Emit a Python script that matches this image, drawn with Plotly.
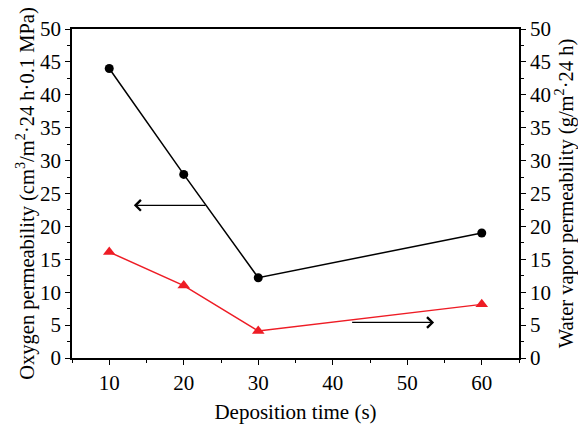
import plotly.graph_objects as go

# Data
deposition_time = [10, 20, 30, 60]
oxygen_perm = [44, 27.9, 12.2, 19.0]
water_vapor_perm = [16.1, 11.0, 4.1, 8.15]
x_ticks = [10, 20, 30, 40, 50, 60]
y_ticks = [0, 5, 10, 15, 20, 25, 30, 35, 40, 45, 50]

# Arrow annotations (data coords): tail -> head
left_arrow = dict(tail=(23.1, 23.2), head=(13.3, 23.2))
right_arrow = dict(tail=(42.4, 5.4), head=(53.6, 5.4))

FONT = "Liberation Serif"

fig = go.Figure()
fig.add_trace(go.Scatter(
    x=deposition_time, y=oxygen_perm, mode="lines+markers",
    line=dict(color="black", width=1.5),
    marker=dict(symbol="circle", size=9, color="black"),
    yaxis="y", showlegend=False))
fig.add_trace(go.Scatter(
    x=deposition_time, y=water_vapor_perm, mode="lines+markers",
    line=dict(color="#ee1c25", width=1.5),
    marker=dict(symbol="triangle-up", size=11, color="#ee1c25"),
    yaxis="y2", showlegend=False))

for arr in (left_arrow, right_arrow):
    fig.add_annotation(
        x=arr["head"][0], y=arr["head"][1], ax=arr["tail"][0], ay=arr["tail"][1],
        xref="x", yref="y", axref="x", ayref="y", text="", showarrow=True,
        arrowhead=4, arrowsize=1.6, arrowwidth=1.3, arrowcolor="black")

axis_common = dict(
    showgrid=False, zeroline=False, showline=True, linecolor="black", linewidth=1.5,
    ticks="outside", ticklen=5, tickwidth=1.3, tickcolor="black", automargin=False,
    tickfont=dict(family=FONT, size=21, color="black"),
)

fig.update_layout(
    width=578, height=430,
    margin=dict(l=72, r=59, t=29, b=72),
    paper_bgcolor="white", plot_bgcolor="white",
    font=dict(family=FONT, color="black"),
    xaxis=dict(
        **axis_common, range=[5, 65], tickvals=x_ticks, mirror=True,
        minor=dict(ticks="outside", ticklen=3, tickcolor="black", dtick=5, tick0=5),
        title=dict(text="Deposition time (s)", font=dict(family=FONT, size=21), standoff=10),
    ),
    yaxis=dict(
        **axis_common, range=[0, 50], tickvals=y_ticks,
        minor=dict(ticks="outside", ticklen=3, tickcolor="black", dtick=2.5),
        title=dict(text="Oxygen permeability (cm<sup>3</sup>/m<sup>2</sup>·24 h·0.1 MPa)",
                   font=dict(family=FONT, size=20.5), standoff=0),
    ),
    yaxis2=dict(
        **axis_common, range=[0, 50], tickvals=y_ticks, overlaying="y", side="right",
        minor=dict(ticks="outside", ticklen=3, tickcolor="black", dtick=2.5),
        title=dict(text="Water vapor permeability (g/m<sup>2</sup>·24 h)",
                   font=dict(family=FONT, size=20.5), standoff=11),
    ),
)

fig.write_html("out.html")
